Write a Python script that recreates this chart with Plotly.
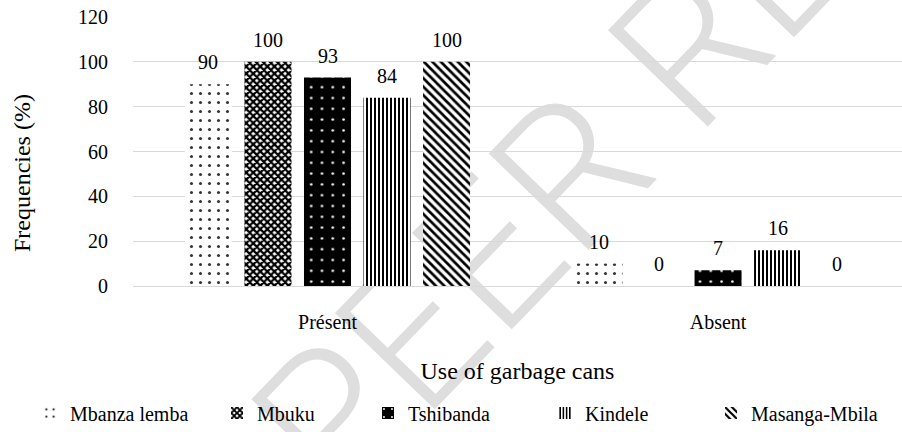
import plotly.graph_objects as go

categories = ["Présent", "Absent"]
series_names = ["Mbanza lemba", "Mbuku", "Tshibanda", "Kindele", "Masanga-Mbila"]
values = {
    "Mbanza lemba": [90, 10],
    "Mbuku": [100, 0],
    "Tshibanda": [93, 7],
    "Kindele": [84, 16],
    "Masanga-Mbila": [100, 0],
}
y_ticks = [0, 20, 40, 60, 80, 100, 120]

patterns = {
    "Mbanza lemba": dict(shape=".", bgcolor="white", fgcolor="#333333", size=9, solidity=0.09, fillmode="replace"),
    "Mbuku": dict(shape="x", bgcolor="white", fgcolor="black", size=5, solidity=0.7, fillmode="replace"),
    "Tshibanda": dict(shape=".", bgcolor="black", fgcolor="white", size=10.8, solidity=0.045, fillmode="replace"),
    "Kindele": dict(shape="|", bgcolor="white", fgcolor="black", size=4, solidity=0.5, fillmode="replace"),
    "Masanga-Mbila": dict(shape="\\", bgcolor="white", fgcolor="black", size=6, solidity=0.45, fillmode="replace"),
}

FONT = "Liberation Serif"
W, H = 902, 432
ML, MR, MT, MB = 133, 0, 17, 146
PW, PH = W - ML - MR, H - MT - MB
XR = [-0.498, 1.471]
BARGAP, BARGROUPGAP = 0.238, 0.21
px_per_unit = PW / (XR[1] - XR[0])
n = len(series_names)
slot_px = (1 - BARGAP) / n * px_per_unit

# legend text start positions (px) for each series
legend_text_x = [75, 262, 413, 590, 756]
legend_y_px = 413

fig = go.Figure()
for i, name in enumerate(series_names):
    lg = "legend" if i == 0 else f"legend{i + 1}"
    fig.add_trace(go.Bar(
        name=name,
        x=categories,
        y=values[name],
        legend=lg,
        marker=dict(color="white", line=dict(width=0), pattern=patterns[name]),
    ))
    # value labels above each bar
    for cat, val in zip(categories, values[name]):
        fig.add_annotation(
            x=cat, y=val, xref="x", yref="y", text=str(val), showarrow=False,
            xshift=(i - (n - 1) / 2) * slot_px, yshift=22,
            xanchor="center", yanchor="middle",
            font=dict(family=FONT, size=20, color="black"),
        )

legend_layout = {}
for i, tx in enumerate(legend_text_x):
    key = "legend" if i == 0 else f"legend{i + 1}"
    legend_layout[key] = dict(
        orientation="h", xanchor="left", yanchor="middle",
        x=(tx - 45 - ML) / PW, y=(MT + PH - legend_y_px) / PH,
        font=dict(family=FONT, size=20, color="black"),
        bgcolor="rgba(0,0,0,0)", borderwidth=0,
    )

# watermark (drawn below the bars)
cx, cy = 465, 262
fig.add_shape(
    type="rect", xref="paper", yref="paper",
    x0=(cx - 5 - ML) / PW, x1=(cx + 5 - ML) / PW,
    y0=(MT + PH - cy - 5) / PH, y1=(MT + PH - cy + 5) / PH,
    line=dict(width=0), fillcolor="rgba(0,0,0,0)", layer="below",
    label=dict(text="UNDER PEER REVIEW", textangle=-46, textposition="middle center",
               font=dict(family="Roboto", size=195, color="#dedede", weight=300)),
)

fig.add_annotation(
    text="Frequencies (%)", xref="paper", yref="paper",
    x=(22 - ML) / PW, y=(MT + PH - 173) / PH, textangle=-90,
    showarrow=False, xanchor="center", yanchor="middle",
    font=dict(family=FONT, size=24, color="black"),
)

fig.update_layout(
    width=W, height=H,
    margin=dict(l=ML, r=MR, t=MT, b=MB, autoexpand=False),
    paper_bgcolor="white", plot_bgcolor="white",
    barmode="group", bargap=BARGAP, bargroupgap=BARGROUPGAP,
    font=dict(family=FONT, size=20, color="black"),
    showlegend=True,
    xaxis=dict(range=XR, showgrid=False, zeroline=False, showline=False, automargin=False,
               ticks="", ticklabelstandoff=22,
               tickfont=dict(family=FONT, size=20, color="black"),
               title=dict(text="Use of garbage cans", standoff=30,
                          font=dict(family=FONT, size=24, color="black"))),
    yaxis=dict(range=[0, 120], tickvals=y_ticks, showgrid=True, gridcolor="#d9d9d9",
               gridwidth=1.3, zeroline=True, zerolinecolor="#d9d9d9", zerolinewidth=1.3,
               showline=False, ticks="", ticklabelstandoff=24, automargin=False,
               tickfont=dict(family=FONT, size=20, color="black")),
    **legend_layout,
)

fig.write_html(
    "out.html",
    config={"displayModeBar": False},
    post_script="document.body.style.margin='0';document.body.style.overflow='hidden';",
)
